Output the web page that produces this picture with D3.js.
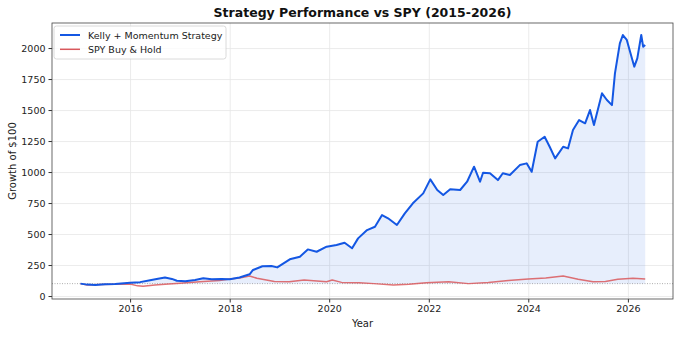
<!DOCTYPE html>
<html>
<head>
<meta charset="utf-8">
<script src="https://cdn.jsdelivr.net/npm/d3@7"></script>
<style>
  body { margin: 0; background: #fff; }
  svg { display: block; font-family: "DejaVu Sans", sans-serif; }
</style>
</head>
<body>
<div id="container"></div>
<script>
// strategy equity curve (growth of $100)
const stratDates = ["2015-01-02","2015-02-20","2015-04-20","2015-07-01","2015-09-13","2016-01-01","2016-03-14","2016-05-27","2016-07-24","2016-09-13","2016-11-03","2016-12-09","2017-02-09","2017-04-22","2017-06-21","2017-08-22","2017-11-03","2018-01-01","2018-03-14","2018-05-27","2018-06-21","2018-08-29","2018-11-03","2018-12-16","2019-03-18","2019-05-31","2019-07-28","2019-10-01","2019-12-13","2020-02-24","2020-04-23","2020-06-17","2020-07-31","2020-10-05","2020-12-02","2021-01-23","2021-03-08","2021-05-12","2021-07-09","2021-09-06","2021-11-21","2022-01-12","2022-03-04","2022-04-17","2022-06-07","2022-08-19","2022-10-09","2022-11-29","2023-01-12","2023-02-03","2023-03-26","2023-05-23","2023-06-28","2023-08-19","2023-10-31","2023-12-20","2024-01-26","2024-03-10","2024-04-30","2024-06-06","2024-07-16","2024-09-13","2024-10-19","2024-11-24","2025-01-08","2025-02-21","2025-03-29","2025-04-27","2025-06-25","2025-07-31","2025-09-06","2025-09-28","2025-11-03","2025-11-25","2025-12-24","2026-02-03","2026-02-17","2026-03-11","2026-04-09","2026-04-23","2026-05-08"];
const stratValues = [100,92,89,95,97,107,112,128,140,150,138,123,120,130,143,135,138,135,150,175,210,240,242,231,296,317,376,357,398,411,430,385,465,532,559,653,627,573,667,748,828,941,855,815,861,855,922,1043,922,994,990,935,990,976,1056,1070,1002,1244,1285,1204,1110,1204,1191,1339,1419,1393,1500,1379,1635,1581,1540,1796,2038,2105,2065,1903,1850,1917,2105,2011,2024];

// SPY buy & hold
const spyDates = ["2015-01-02","2015-02-20","2015-05-27","2015-09-13","2016-01-01","2016-02-25","2016-04-05","2016-07-01","2016-09-13","2017-01-01","2017-05-27","2017-10-19","2018-01-01","2018-03-14","2018-05-27","2018-07-20","2018-11-25","2019-03-14","2019-07-01","2019-12-13","2020-01-23","2020-04-01","2020-08-08","2020-11-25","2021-04-16","2021-08-08","2021-12-13","2022-05-27","2022-10-19","2023-03-14","2023-08-08","2024-01-01","2024-05-08","2024-09-13","2025-01-01","2025-04-20","2025-07-20","2025-10-19","2026-02-07","2026-05-08"];
const spyValues = [100,89,92,95,97,82,78,88,94,103,115,125,137,145,161,143,118,115,130,115,129,110,108,100,89,95,107,115,100,110,125,138,145,161,135,115,118,135,143,137];

const yTicks = [0,250,500,750,1000,1250,1500,1750,2000];
const xTickYears = [2016,2018,2020,2022,2024,2026];
const seriesNames = ["Kelly + Momentum Strategy", "SPY Buy & Hold"];

const width = 680, height = 337;
const margin = {top: 23, right: 7, bottom: 38, left: 52};
const blue = "#1457e3", red = "#d9585c";

const parse = d3.utcParse("%Y-%m-%d");
const strat = stratDates.map((d, i) => ({date: parse(d), value: stratValues[i]}));
const spy = spyDates.map((d, i) => ({date: parse(d), value: spyValues[i]}));
const xTickDates = xTickYears.map(yr => new Date(Date.UTC(yr, 0, 1)));

const x = d3.scaleUtc()
    .domain([parse("2014-06-07"), parse("2026-11-28")])
    .range([margin.left, width - margin.right]);

const y = d3.scaleLinear()
    .domain([-24, 2202])
    .range([height - margin.bottom, margin.top]);

const svg = d3.create("svg")
    .attr("width", width)
    .attr("height", height);

svg.append("defs").append("clipPath").attr("id", "clip")
  .append("rect")
    .attr("x", margin.left).attr("y", margin.top)
    .attr("width", width - margin.left - margin.right)
    .attr("height", height - margin.top - margin.bottom);

// grid
svg.append("g")
    .attr("transform", `translate(0, ${margin.top})`)
    .call(d3.axisTop(x).tickValues(xTickDates)
        .tickSize(-(height - margin.top - margin.bottom)).tickFormat(""))
    .call(g => g.select(".domain").remove())
    .call(g => g.selectAll("line").attr("stroke", "#e6e6e6").attr("stroke-width", 0.8));

svg.append("g")
    .attr("transform", `translate(${margin.left}, 0)`)
    .call(d3.axisLeft(y).tickValues(yTicks)
        .tickSize(-(width - margin.left - margin.right)).tickFormat(""))
    .call(g => g.select(".domain").remove())
    .call(g => g.selectAll("line").attr("stroke", "#e6e6e6").attr("stroke-width", 0.8));

const plot = svg.append("g").attr("clip-path", "url(#clip)");

// fill between strategy and starting value
plot.append("path")
    .datum(strat)
    .attr("fill", blue)
    .attr("fill-opacity", 0.1)
    .attr("d", d3.area()
        .x(d => x(d.date))
        .y0(y(100))
        .y1(d => y(d.value)));

// baseline at 100
plot.append("line")
    .attr("x1", margin.left).attr("x2", width - margin.right)
    .attr("y1", y(100)).attr("y2", y(100))
    .attr("stroke", "#999")
    .attr("stroke-width", 0.8)
    .attr("stroke-dasharray", "1,1.5");

plot.append("path")
    .datum(spy)
    .attr("fill", "none")
    .attr("stroke", red)
    .attr("stroke-width", 1.5)
    .attr("stroke-opacity", 0.85)
    .attr("stroke-linejoin", "round")
    .attr("d", d3.line().x(d => x(d.date)).y(d => y(d.value)));

plot.append("path")
    .datum(strat)
    .attr("fill", "none")
    .attr("stroke", blue)
    .attr("stroke-width", 2)
    .attr("stroke-linejoin", "round")
    .attr("d", d3.line().x(d => x(d.date)).y(d => y(d.value)));

// axes
svg.append("g")
    .attr("transform", `translate(0, ${height - margin.bottom})`)
    .call(d3.axisBottom(x).tickValues(xTickDates)
        .tickSize(3.5).tickPadding(3).tickFormat(d3.utcFormat("%Y")))
    .call(g => g.select(".domain").remove())
    .call(g => g.selectAll("text").attr("font-size", "9.5px").attr("fill", "#222").attr("font-family", "DejaVu Sans"))
    .call(g => g.selectAll("line").attr("stroke", "#333"));

svg.append("g")
    .attr("transform", `translate(${margin.left}, 0)`)
    .call(d3.axisLeft(y).tickValues(yTicks).tickSize(3.5).tickPadding(3).tickFormat(d3.format("d")))
    .call(g => g.select(".domain").remove())
    .call(g => g.selectAll("text").attr("font-size", "9.5px").attr("fill", "#222").attr("font-family", "DejaVu Sans"))
    .call(g => g.selectAll("line").attr("stroke", "#333"));

// frame
svg.append("rect")
    .attr("x", margin.left).attr("y", margin.top)
    .attr("width", width - margin.left - margin.right)
    .attr("height", height - margin.top - margin.bottom)
    .attr("fill", "none")
    .attr("stroke", "#444")
    .attr("stroke-width", 0.8);

// title and labels
svg.append("text")
    .attr("x", (margin.left + width - margin.right) / 2)
    .attr("y", 17)
    .attr("text-anchor", "middle")
    .attr("font-size", "12.5px")
    .attr("font-weight", "bold")
    .attr("fill", "#111")
    .text("Strategy Performance vs SPY (2015-2026)");

svg.append("text")
    .attr("x", (margin.left + width - margin.right) / 2)
    .attr("y", 327)
    .attr("text-anchor", "middle")
    .attr("font-size", "10px")
    .attr("fill", "#222")
    .text("Year");

svg.append("text")
    .attr("transform", "rotate(-90)")
    .attr("x", -(margin.top + height - margin.bottom) / 2)
    .attr("y", 16)
    .attr("text-anchor", "middle")
    .attr("font-size", "10px")
    .attr("fill", "#222")
    .text("Growth of $100");

// legend
const legend = svg.append("g");
legend.append("rect")
    .attr("x", 54).attr("y", 26)
    .attr("width", 172).attr("height", 33)
    .attr("rx", 2.5)
    .attr("fill", "#fff").attr("fill-opacity", 0.8)
    .attr("stroke", "#d0d0d0").attr("stroke-width", 0.8);

[blue, red].forEach((c, i) => {
    legend.append("line")
        .attr("x1", 60).attr("x2", 80)
        .attr("y1", 35 + i * 14.3).attr("y2", 35 + i * 14.3)
        .attr("stroke", c)
        .attr("stroke-width", i === 0 ? 2 : 1.5);
    legend.append("text")
        .attr("x", 88).attr("y", 38.5 + i * 14.3)
        .attr("font-size", "9.5px")
        .attr("fill", "#222")
        .text(seriesNames[i]);
});

document.getElementById("container").append(svg.node());
</script>
</body>
</html>
